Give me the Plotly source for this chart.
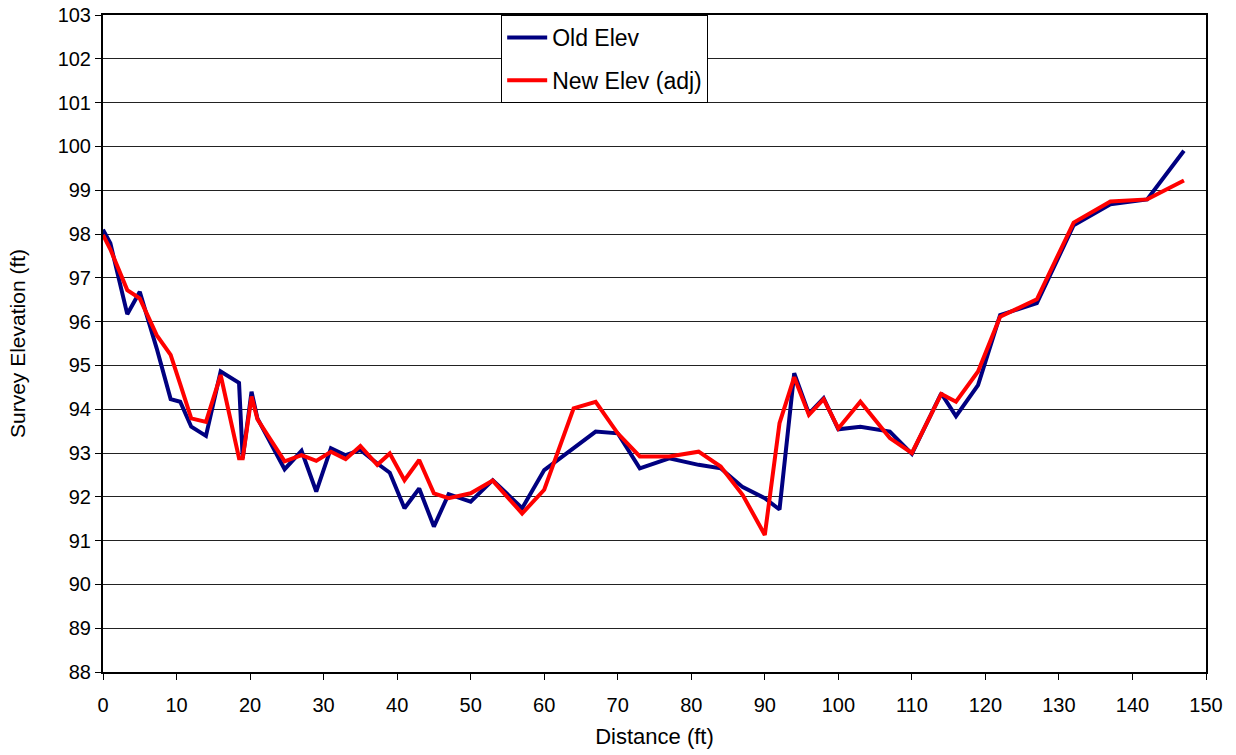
import plotly.graph_objects as go

distance = [0, 1, 3.3, 5, 7.3, 9.2, 10.5, 12, 14, 16, 18.5, 19, 20.2, 21, 24.7, 27, 29, 31, 33, 35,
            37.3, 39, 41, 43, 45, 47, 50, 53, 57, 60, 64, 67, 70, 73, 77, 81, 84, 87, 90, 92,
            94, 96, 98, 100, 103, 107, 110, 114, 116, 119, 122, 127, 132, 137, 142, 147]

old_elev = [98.10, 97.79, 96.17, 96.68, 95.39, 94.23, 94.17, 93.60, 93.39, 94.86, 94.60, 92.88, 94.40, 93.79,
            92.63, 93.05, 92.12, 93.11, 92.95, 93.07, 92.76, 92.55, 91.74, 92.19, 91.32, 92.06, 91.89,
            92.38, 91.74, 92.61, 93.11, 93.49, 93.45, 92.65, 92.88, 92.73, 92.65, 92.22, 91.97, 91.71,
            94.82, 93.90, 94.25, 93.54, 93.60, 93.49, 92.98, 94.36, 93.84, 94.55, 96.15, 96.42, 98.20,
            98.68, 98.79, 99.90]

new_elev = [97.98, 97.65, 96.72, 96.53, 95.69, 95.24, 94.57, 93.79, 93.71, 94.78, 92.88, 92.88, 94.29, 93.77,
            92.81, 92.95, 92.82, 93.03, 92.86, 93.16, 92.73, 92.99, 92.38, 92.84, 92.08, 91.97, 92.08,
            92.37, 91.62, 92.16, 94.02, 94.17, 93.45, 92.92, 92.92, 93.03, 92.69, 92.04, 91.13, 93.68,
            94.73, 93.87, 94.23, 93.56, 94.17, 93.34, 93.00, 94.35, 94.17, 94.86, 96.11, 96.51, 98.26,
            98.74, 98.79, 99.22]

x_ticks = list(range(0, 151, 10))
y_ticks = list(range(88, 104, 1))

fig = go.Figure()
fig.add_trace(go.Scatter(x=distance, y=old_elev, mode="lines", name="Old Elev", legendgroup="a",
                         line=dict(color="#000080", width=4)))
fig.add_trace(go.Scatter(x=distance, y=new_elev, mode="lines", name="New Elev (adj)", legendgroup="b",
                         line=dict(color="#FF0000", width=4)))

font_family = "Liberation Sans, Arial, sans-serif"
fig.update_layout(
    width=1236, height=755,
    margin=dict(l=103, r=30, t=15, b=83),
    paper_bgcolor="white", plot_bgcolor="white",
    font=dict(family=font_family, size=20, color="black"),
    legend=dict(x=0.361, y=1.0, xanchor="left", yanchor="top",
                bgcolor="white", bordercolor="black", borderwidth=1,
                font=dict(size=23, family=font_family), tracegroupgap=10,
                traceorder="grouped", itemwidth=40),
    xaxis=dict(range=[0, 150], tickvals=x_ticks, ticks="outside", ticklen=6, tickcolor="black",
               showgrid=False, zeroline=False, showline=True, linecolor="black", linewidth=2,
               mirror=True, automargin=False, ticklabelstandoff=8,
               title=dict(text="Distance (ft)", font=dict(size=22), standoff=14),
               tickfont=dict(size=20)),
    yaxis=dict(range=[88, 103], tickvals=y_ticks, ticks="outside", ticklen=6, tickcolor="black",
               showgrid=True, gridcolor="#222222", gridwidth=1, zeroline=False,
               showline=True, linecolor="black", linewidth=2, mirror=True, automargin=False,
               title=dict(text="Survey Elevation (ft)", font=dict(size=21), standoff=26),
               tickfont=dict(size=20)),
)

fig.write_html("out.html")
